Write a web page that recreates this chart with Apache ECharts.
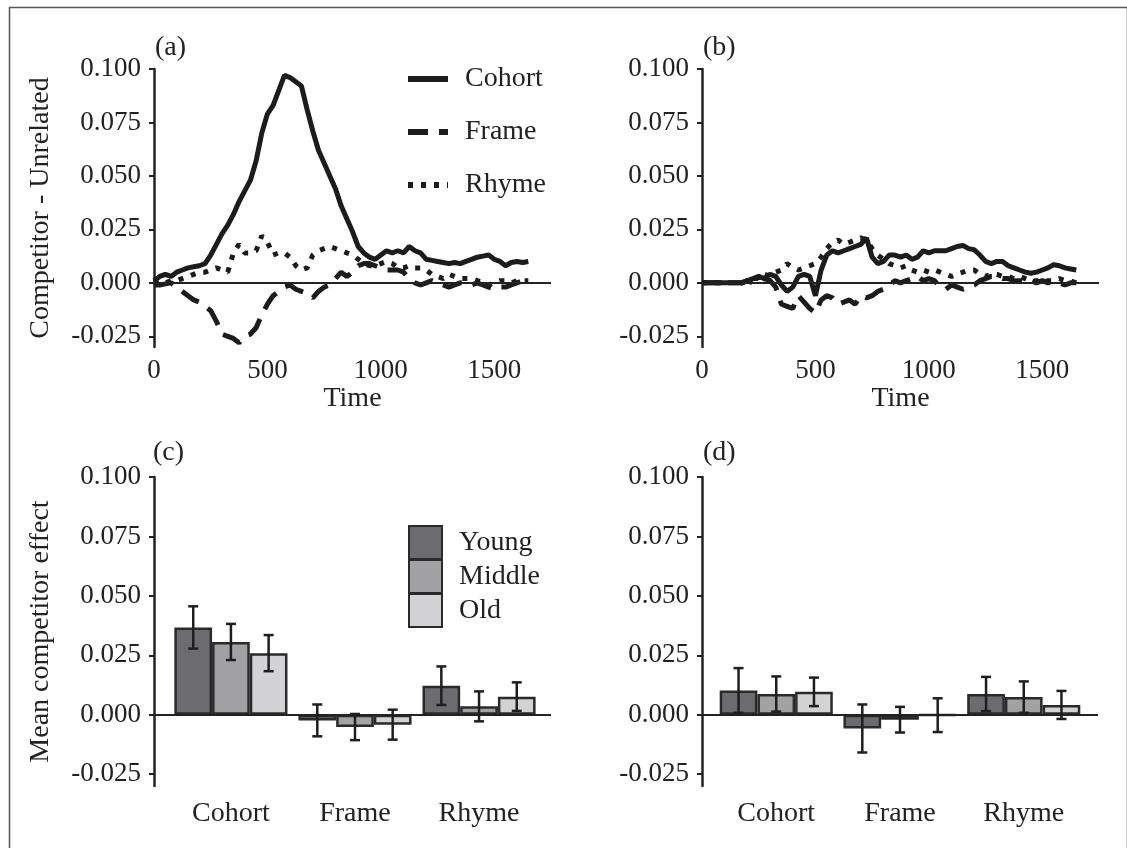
<!DOCTYPE html>
<html>
<head>
<meta charset="utf-8">
<script src="https://cdn.jsdelivr.net/npm/echarts@6/dist/echarts.min.js"></script>
<style>
  html, body { margin: 0; padding: 0; background: #fff; }
  #chart { width: 1127px; height: 848px; }
</style>
</head>
<body>
<div id="chart"></div>
<script>
// time course data (ms)
const time = [0,25,50,75,100,125,150,175,200,225,
  250,275,300,325,350,375,400,425,450,475,
  500,525,550,575,600,625,650,675,700,725,
  750,775,800,825,850,875,900,925,950,975,
  1000,1025,1050,1075,1100,1125,1150,1175,1200,1225,
  1250,1275,1300,1325,1350,1375,1400,1425,1450,1475,
  1500,1525,1550,1575,1600,1625,1650]

// panel (a)
const cohortA = [0.001,0.003,0.004,0.003,0.005,0.006,0.007,0.0075,0.008,0.009,
  0.013,0.018,0.023,0.027,0.032,0.038,0.043,0.048,0.057,0.070,
  0.079,0.083,0.090,0.097,0.096,0.094,0.092,0.081,0.071,0.062,
  0.056,0.050,0.044,0.036,0.030,0.024,0.017,0.014,0.012,0.011,
  0.013,0.015,0.014,0.015,0.014,0.017,0.015,0.014,0.011,0.0105,
  0.010,0.0095,0.009,0.0095,0.009,0.010,0.011,0.012,0.0125,0.013,
  0.011,0.010,0.008,0.0095,0.010,0.0095,0.010]
const frameA = [-0.001,-0.001,-0.0005,0.0,-0.002,-0.004,-0.006,-0.008,-0.009,-0.011,
  -0.013,-0.018,-0.024,-0.025,-0.026,-0.028,-0.025,-0.024,-0.021,-0.015,
  -0.010,-0.006,-0.004,-0.002,-0.001,-0.003,-0.004,-0.005,-0.007,-0.004,
  -0.002,-0.001,0.002,0.005,0.003,0.005,0.008,0.009,0.009,0.008,
  0.007,0.006,0.006,0.006,0.005,0.002,0.0,-0.001,0.0,0.001,
  0.0,-0.001,-0.002,-0.001,0.0,0.0,-0.001,0.0,-0.001,-0.002,
  -0.003,-0.002,-0.002,-0.001,0.0,0.001,0.001]
const rhymeA = [0.0,0.001,0.0,0.001,0.001,0.002,0.003,0.004,0.005,0.005,
  0.006,0.007,0.006,0.005,0.014,0.018,0.014,0.014,0.015,0.022,
  0.019,0.013,0.014,0.014,0.012,0.008,0.006,0.007,0.013,0.015,
  0.016,0.017,0.016,0.015,0.014,0.013,0.011,0.009,0.008,0.008,
  0.009,0.010,0.009,0.007,0.007,0.008,0.007,0.007,0.006,0.004,
  0.003,0.002,0.004,0.003,0.002,0.002,0.002,0.001,0.0,-0.001,
  0.0,0.001,0.001,0.0,0.001,0.001,0.001]

// panel (b)
const cohortB = [0.0,0.0,0.0,0.0,0.0,0.0,0.0,0.0,0.001,0.002,
  0.003,0.002,0.004,0.003,-0.001,-0.004,-0.002,0.003,0.004,0.003,
  -0.006,0.006,0.013,0.015,0.014,0.015,0.016,0.017,0.018,0.021,
  0.012,0.009,0.010,0.013,0.013,0.012,0.013,0.011,0.012,0.015,
  0.014,0.015,0.015,0.015,0.016,0.017,0.0175,0.016,0.0155,0.013,
  0.010,0.009,0.010,0.010,0.008,0.007,0.006,0.005,0.0045,0.005,
  0.006,0.007,0.0085,0.008,0.007,0.0065,0.006]
const frameB = [0.0,0.0,0.0,0.0,0.0,0.0,0.0,0.0,0.001,0.0,
  0.001,0.002,0.001,-0.002,-0.010,-0.011,-0.012,-0.006,-0.009,-0.012,
  -0.014,-0.008,-0.006,-0.007,-0.010,-0.009,-0.008,-0.010,-0.006,-0.007,
  -0.006,-0.004,-0.003,-0.001,0.001,0.0,0.001,0.002,0.003,0.001,
  0.002,0.001,-0.002,-0.003,-0.001,-0.002,-0.003,-0.002,-0.001,0.001,
  0.002,0.003,0.003,0.002,0.002,0.001,0.001,0.0,0.001,0.0,
  0.001,0.0,0.001,0.0,-0.001,0.0,0.0]
const rhymeB = [0.0,0.0,0.0,0.0,0.0,0.0,0.0,0.0,0.001,0.002,
  0.002,0.004,0.003,0.005,0.006,0.009,0.007,0.006,0.007,0.008,
  0.009,0.012,0.016,0.019,0.020,0.018,0.019,0.020,0.021,0.020,
  0.016,0.013,0.011,0.009,0.008,0.007,0.008,0.006,0.005,0.006,
  0.005,0.006,0.005,0.004,0.003,0.004,0.005,0.006,0.006,0.004,
  0.003,0.004,0.004,0.003,0.003,0.002,0.003,0.002,0.001,0.001,
  0.0,0.001,0.001,0.002,0.001,0.001,0.0]

// bar panels
const cats = ['Cohort', 'Frame', 'Rhyme']
const youngC = [0.0367, -0.0024, 0.0122]
const youngErrC = [0.0089, 0.0067, 0.0081]
const middleC = [0.0306, -0.0052, 0.0035]
const middleErrC = [0.0076, 0.0055, 0.0063]
const oldC = [0.0259, -0.0042, 0.0076]
const oldErrC = [0.0076, 0.0063, 0.0060]
const youngD = [0.0102, -0.0058, 0.0087]
const youngErrD = [0.0094, 0.0101, 0.0072]
const middleD = [0.0087, -0.0021, 0.0074]
const middleErrD = [0.0074, 0.0054, 0.0066]
const oldD = [0.0096, -0.0002, 0.0041]
const oldErrD = [0.0060, 0.0071, 0.0059]

const yTicks = [-0.025, 0, 0.025, 0.05, 0.075, 0.1]
const timeTicks = [0, 500, 1000, 1500]

const FONT = 'Liberation Serif'
const INK = '#222'
const barW = 37.7
const ageColors = { Young: '#6c6c70', Middle: '#a2a2a5', Old: '#d3d3d5' }

const txt = (size) => ({ fontFamily: FONT, fontSize: size, color: INK })

function yAxisCfg(gridIndex, name) {
  return {
    type: 'value', gridIndex, min: -0.03, max: 0.1,
    name: name || '', nameLocation: 'middle', nameGap: 99,
    nameTextStyle: txt(28),
    axisLine: { show: true, onZero: false, lineStyle: { color: INK, width: 2.5 } },
    axisTick: { show: true, length: 5, customValues: yTicks, lineStyle: { color: INK, width: 2 } },
    axisLabel: Object.assign({ customValues: yTicks, margin: 13, formatter: v => v.toFixed(3) }, txt(27)),
    splitLine: { show: false }
  }
}
function timeAxisCfg(gridIndex) {
  return {
    type: 'value', gridIndex, min: 0, max: 1750,
    name: 'Time', nameLocation: 'middle', nameGap: 32, nameTextStyle: txt(28),
    axisLine: { show: false, onZero: false }, axisTick: { show: false },
    axisLabel: Object.assign({ customValues: timeTicks, margin: 10, formatter: v => String(v) }, txt(27)),
    splitLine: { show: false }
  }
}
function catAxisCfg(gridIndex, min) {
  return {
    type: 'value', gridIndex, min: min, max: min + 3.2,
    axisLine: { show: false, onZero: false }, axisTick: { show: false },
    axisLabel: Object.assign({ customValues: [1, 2, 3], margin: 14, formatter: v => cats[Math.round(v) - 1] }, txt(28)),
    splitLine: { show: false }
  }
}

const zeroLine = {
  silent: true, symbol: ['none', 'none'], label: { show: false },
  lineStyle: { color: INK, width: 2, type: 'solid' },
  data: [{ yAxis: 0 }]
}

function lineSeries(name, arr, idx, dash, withZero) {
  const s = {
    type: 'line', name, xAxisIndex: idx, yAxisIndex: idx,
    data: time.map((t, i) => [t, arr[i]]),
    symbol: 'none',
    itemStyle: { color: '#1c1c1c' },
    lineStyle: { color: '#1c1c1c', width: 5, type: dash, cap: 'butt' },
    z: 3
  }
  if (withZero) s.markLine = zeroLine
  return s
}

function barSeries(name, vals, idx, withZero) {
  const s = {
    type: 'bar', name, xAxisIndex: idx, yAxisIndex: idx,
    data: vals.map((v, i) => [i + 1, v]),
    barWidth: barW, barGap: '0%',
    itemStyle: { color: ageColors[name], borderColor: '#2a2a2a', borderWidth: 2.5 }
  }
  if (withZero) s.markLine = zeroLine
  return s
}

function errSeries(vals, errs, idx, k) {
  return {
    type: 'custom', xAxisIndex: idx, yAxisIndex: idx, z: 5, silent: true,
    data: vals.map((v, i) => [i + 1, v - errs[i], v + errs[i]]),
    renderItem: (params, api) => {
      const lo = api.coord([api.value(0), api.value(1)])
      const hi = api.coord([api.value(0), api.value(2)])
      const x = lo[0] + k * barW
      const style = { stroke: '#1e1e1e', lineWidth: 2.5 }
      return {
        type: 'group',
        children: [
          { type: 'line', shape: { x1: x, y1: lo[1], x2: x, y2: hi[1] }, style },
          { type: 'line', shape: { x1: x - 5, y1: lo[1], x2: x + 5, y2: lo[1] }, style },
          { type: 'line', shape: { x1: x - 5, y1: hi[1], x2: x + 5, y2: hi[1] }, style }
        ]
      }
    }
  }
}

const panelTitle = (text, left, top) => ({
  text, left, top, padding: 0,
  textStyle: { fontFamily: FONT, fontSize: 28, fontWeight: 'normal', color: INK }
})

const chart = echarts.init(document.getElementById('chart'), null, { renderer: 'canvas' })
chart.setOption({
  animation: false,
  backgroundColor: '#fff',
  title: [
    panelTitle('(a)', 155, 34),
    panelTitle('(b)', 703, 34),
    panelTitle('(c)', 153, 439),
    panelTitle('(d)', 703, 439)
  ],
  graphic: [{
    type: 'rect', left: 7, top: 5,
    shape: { width: 1118, height: 860 },
    style: { fill: 'none', stroke: '#555', lineWidth: 1.5 }
  }],
  legend: [
    {
      data: ['Cohort', 'Frame', 'Rhyme'], orient: 'vertical', left: 405, top: 65,
      padding: 0, itemWidth: 40, itemHeight: 24, itemGap: 25, selectedMode: false,
      itemStyle: { color: 'rgba(0,0,0,0)', borderWidth: 0 },
      lineStyle: { width: 6 },
      textStyle: Object.assign({ padding: [0, 0, 0, 12], lineHeight: 24 }, txt(28))
    },
    {
      data: ['Young', 'Middle', 'Old'], orient: 'vertical', left: 408, top: 525,
      padding: 0, icon: 'rect', itemWidth: 33, itemHeight: 33, itemGap: -1, selectedMode: false,
      textStyle: Object.assign({ padding: [0, 0, 0, 12], lineHeight: 33 }, txt(28))
    }
  ],
  grid: [
    { left: 154, top: 69, width: 397, height: 278 },
    { left: 702, top: 69, width: 397, height: 278 },
    { left: 154, top: 477, width: 397, height: 309 },
    { left: 702, top: 477, width: 396, height: 309 }
  ],
  xAxis: [timeAxisCfg(0), timeAxisCfg(1), catAxisCfg(2, 0.38), catAxisCfg(3, 0.4)],
  yAxis: [yAxisCfg(0, 'Competitor - Unrelated'), yAxisCfg(1), yAxisCfg(2, 'Mean competitor effect'), yAxisCfg(3)],
  series: [
    lineSeries('Cohort', cohortA, 0, 'solid', true),
    lineSeries('Frame', frameA, 0, [20, 11], false),
    lineSeries('Rhyme', rhymeA, 0, [5, 8], false),
    lineSeries('Cohort', cohortB, 1, 'solid', true),
    lineSeries('Frame', frameB, 1, [20, 11], false),
    lineSeries('Rhyme', rhymeB, 1, [5, 8], false),
    barSeries('Young', youngC, 2, true),
    barSeries('Middle', middleC, 2, false),
    barSeries('Old', oldC, 2, false),
    errSeries(youngC, youngErrC, 2, -1),
    errSeries(middleC, middleErrC, 2, 0),
    errSeries(oldC, oldErrC, 2, 1),
    barSeries('Young', youngD, 3, true),
    barSeries('Middle', middleD, 3, false),
    barSeries('Old', oldD, 3, false),
    errSeries(youngD, youngErrD, 3, -1),
    errSeries(middleD, middleErrD, 3, 0),
    errSeries(oldD, oldErrD, 3, 1)
  ]
})
</script>
</body>
</html>
